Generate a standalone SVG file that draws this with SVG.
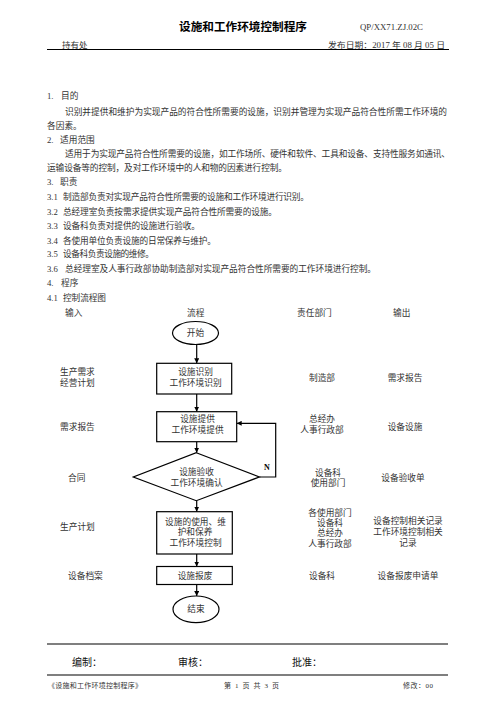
<svg xmlns="http://www.w3.org/2000/svg" width="496" height="702" viewBox="0 0 496 702">
<defs>
<style>
text{font-family:"Liberation Serif","Noto Sans CJK SC",serif;fill:#333;}
.b{font-size:8.7px;}
.f{font-size:8.7px;text-anchor:middle;}
.t{font-size:11.6px;font-weight:bold;fill:#000;}
.h{font-size:8.5px;}
.s{font-size:7px;}
.sig{font-size:10px;fill:#111;}
.shape{fill:#fff;stroke:#000;stroke-width:1.2;}
.conn{fill:none;stroke:#000;stroke-width:1.2;}
.rule{stroke:#000;stroke-width:1.2;}
</style>
<marker id="ah" viewBox="0 0 10 10" refX="10" refY="5" markerWidth="5" markerHeight="5" markerUnits="userSpaceOnUse" orient="auto">
<path d="M0,0 L10,5 L0,10 z" fill="#000"/>
</marker>
</defs>
<rect width="496" height="702" fill="#fff"/>

<g id="header">
<text class="t" x="179" y="31" textLength="128" lengthAdjust="spacingAndGlyphs">设施和工作环境控制程序</text>
<text class="h" x="360" y="30" textLength="63" lengthAdjust="spacingAndGlyphs">QP/XX71.ZJ.02C</text>
<text class="h" x="62" y="48">持有处</text>
<text class="h" x="328" y="48" textLength="117" lengthAdjust="spacingAndGlyphs">发布日期：2017 年 08 月 05 日</text>
<line class="rule" x1="47" y1="49.5" x2="449" y2="49.5"/>
</g>

<g id="body">
<text class="b" x="47" y="99">1.<tspan x="61">目的</tspan></text>
<text class="b" x="65" y="115" textLength="382" lengthAdjust="spacing">识别并提供和维护为实现产品的符合性所需要的设施，识别并管理为实现产品符合性所需工作环境的</text>
<text class="b" x="47" y="129">各因素。</text>
<text class="b" x="47" y="143">2.<tspan x="60">适用范围</tspan></text>
<text class="b" x="65" y="157" textLength="385" lengthAdjust="spacing">适用于为实现产品符合性所需要的设施，如工作场所、硬件和软件、工具和设备、支持性服务如通讯、</text>
<text class="b" x="47" y="171" textLength="240" lengthAdjust="spacing">运输设备等的控制，及对工作环境中的人和物的因素进行控制。</text>
<text class="b" x="47" y="185">3.<tspan x="60">职责</tspan></text>
<text class="b" x="47" y="200">3.1<tspan x="63" textLength="246" lengthAdjust="spacing">制造部负责对实现产品符合性所需要的设施和工作环境进行识别。</tspan></text>
<text class="b" x="47" y="215">3.2<tspan x="63" textLength="214" lengthAdjust="spacing">总经理室负责按需求提供实现产品符合性所需要的设施。</tspan></text>
<text class="b" x="47" y="229">3.3<tspan x="63" textLength="137" lengthAdjust="spacing">设备科负责对提供的设施进行验收。</tspan></text>
<text class="b" x="47" y="244">3.4<tspan x="63" textLength="153" lengthAdjust="spacing">各使用单位负责设施的日常保养与维护。</tspan></text>
<text class="b" x="47" y="257">3.5<tspan x="63" textLength="91" lengthAdjust="spacing">设备科负责设施的维修。</tspan></text>
<text class="b" x="47" y="272">3.6<tspan x="65" textLength="311" lengthAdjust="spacing">总经理室及人事行政部协助制造部对实现产品符合性所需要的工作环境进行控制。</tspan></text>
<text class="b" x="47" y="286">4.<tspan x="61">程序</tspan></text>
<text class="b" x="47" y="301">4.1<tspan x="63" textLength="43" lengthAdjust="spacing">控制流程图</tspan></text>
</g>

<g id="column-headers">
<text class="b" x="65" y="316">输入</text>
<text class="b" x="187" y="316">流程</text>
<text class="b" x="297" y="316">责任部门</text>
<text class="b" x="393" y="316">输出</text>
</g>

<g id="connectors">
<line class="conn" x1="196.7" y1="344.5" x2="196.7" y2="363.3" marker-end="url(#ah)"/>
<line class="conn" x1="196.7" y1="394" x2="196.7" y2="411.7" marker-end="url(#ah)"/>
<line class="conn" x1="196.7" y1="441.7" x2="196.7" y2="452.7" marker-end="url(#ah)"/>
<line class="conn" x1="196.7" y1="500.7" x2="196.7" y2="511.7" marker-end="url(#ah)"/>
<line class="conn" x1="196.7" y1="554" x2="196.7" y2="566.5" marker-end="url(#ah)"/>
<line class="conn" x1="196.7" y1="584.5" x2="196.7" y2="596" marker-end="url(#ah)"/>
<polyline class="conn" points="259.3,477 275.7,477 275.7,423.3 236.7,423.3" marker-end="url(#ah)"/>
<text x="267" y="470" style="font-size:8px;font-weight:bold;fill:#000;text-anchor:middle">N</text>
</g>

<g id="start">
<ellipse class="shape" cx="195.5" cy="333" rx="23" ry="11.5"/>
<text class="f" x="195.5" y="336">开始</text>
</g>
<g id="identify">
<rect class="shape" x="156.7" y="363.3" width="75" height="30.7"/>
<text class="f" x="195.5" y="375">设施识别</text>
<text class="f" x="195.5" y="386">工作环境识别</text>
</g>
<g id="provide">
<rect class="shape" x="156.7" y="411.7" width="80" height="30"/>
<text class="f" x="197.5" y="422">设施提供</text>
<text class="f" x="197.5" y="433">工作环境提供</text>
</g>
<g id="accept">
<polygon class="shape" points="196.3,452.7 259.3,477 196.3,500.7 133.3,477"/>
<text class="f" x="196.5" y="475">设施验收</text>
<text class="f" x="196.5" y="486">工作环境确认</text>
</g>
<g id="use">
<rect class="shape" x="156.7" y="511.7" width="75.6" height="42.3"/>
<text class="f" x="195.5" y="525">设施的使用、维</text>
<text class="f" x="195" y="535">护和保养</text>
<text class="f" x="195.5" y="546">工作环境控制</text>
</g>
<g id="scrap">
<rect class="shape" x="156.7" y="566.5" width="75.6" height="18"/>
<text class="f" x="195" y="579">设施报废</text>
</g>
<g id="end">
<ellipse class="shape" cx="196" cy="609.3" rx="23" ry="13.3"/>
<text class="f" x="196" y="612">结束</text>
</g>

<g id="inputs">
<text class="b" x="60" y="375">生产需求</text>
<text class="b" x="60" y="386">经营计划</text>
<text class="b" x="60" y="430">需求报告</text>
<text class="b" x="68" y="481">合同</text>
<text class="b" x="60" y="530">生产计划</text>
<text class="b" x="68" y="579">设备档案</text>
</g>

<g id="departments">
<text class="f" x="322" y="381">制造部</text>
<text class="f" x="322" y="422">总经办</text>
<text class="f" x="322" y="433">人事行政部</text>
<text class="f" x="328" y="476">设备科</text>
<text class="f" x="328" y="486">使用部门</text>
<text class="f" x="330" y="516">各使用部门</text>
<text class="f" x="330" y="526">设备科</text>
<text class="f" x="330" y="536">总经办</text>
<text class="f" x="330" y="547">人事行政部</text>
<text class="f" x="322" y="579">设备科</text>
</g>

<g id="outputs">
<text class="f" x="405" y="381">需求报告</text>
<text class="f" x="405" y="430">设备设施</text>
<text class="f" x="403" y="481">设备验收单</text>
<text class="f" x="408" y="524">设备控制相关记录</text>
<text class="f" x="408" y="535">工作环境控制相关</text>
<text class="f" x="408" y="546">记录</text>
<text class="f" x="408" y="579">设备报废申请单</text>
</g>

<g id="footer">
<line class="rule" x1="47" y1="644" x2="448" y2="644"/>
<text class="sig" x="72" y="666">编制：</text>
<text class="sig" x="178" y="666">审核：</text>
<text class="sig" x="292" y="666">批准：</text>
<line class="rule" x1="47" y1="675" x2="448" y2="675"/>
<text class="s" x="48" y="688" textLength="94" lengthAdjust="spacing">《设施和工作环境控制程序》</text>
<text class="s" x="224" y="688" textLength="55" lengthAdjust="spacing">第 1 页 共 3 页</text>
<text class="s" x="403" y="688" textLength="30" lengthAdjust="spacing">修改：00</text>
</g>
</svg>
